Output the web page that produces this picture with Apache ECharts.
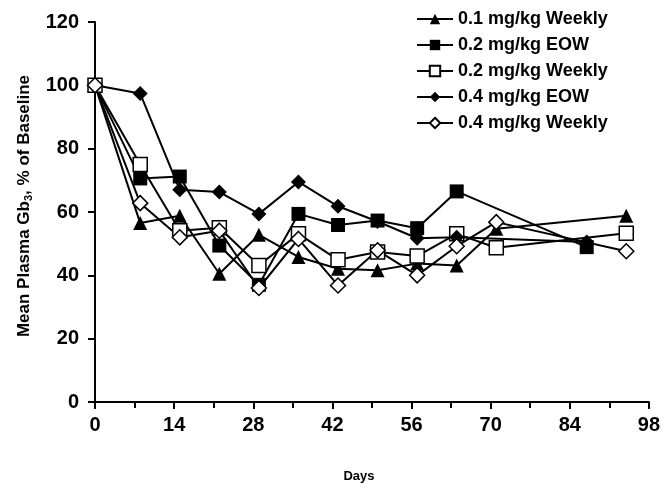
<!DOCTYPE html>
<html>
<head>
<meta charset="utf-8">
<script src="https://cdn.jsdelivr.net/npm/echarts@6/dist/echarts.min.js"></script>
<style>
  html, body { margin: 0; padding: 0; background: #fff; }
  #chart { width: 663px; height: 488px; }
</style>
</head>
<body>
<div id="chart"></div>
<script>
// days of measurement
const weeklyDays = [0, 8, 15, 22, 29, 36, 43, 50, 57, 64, 71, 94]
const eowDays = [0, 8, 15, 22, 29, 36, 43, 50, 57, 64, 87]

// % of baseline
const w01 = [100, 56.5, 58.8, 40.5, 52.8, 45.8, 42.1, 41.6, 43.7, 43.1, 54.7, 58.8]
const eow02 = [100, 70.6, 71.2, 49.4, 37, 59.4, 55.9, 57.3, 54.9, 66.5, 48.9]
const w02 = [100, 75, 54.1, 55, 43.1, 53.1, 44.9, 47.4, 46.1, 53.1, 48.7, 53.3]
const eow04 = [100, 97.4, 67, 66.3, 59.4, 69.5, 61.8, 57, 51.7, 52, 50.5]
const w04 = [100, 62.8, 52, 54.1, 36, 51.5, 36.8, 47.9, 40, 49.2, 56.8, 47.6]

const seriesNames = ['0.1 mg/kg Weekly', '0.2 mg/kg EOW', '0.2 mg/kg Weekly', '0.4 mg/kg EOW', '0.4 mg/kg Weekly']

const font = 'Liberation Sans, Arial, sans-serif'

function pairs (days, vals) {
  return days.map((d, i) => [d, vals[i]])
}

function makeSeries (name, days, vals, symbol, size, filled) {
  return {
    name: name,
    type: 'line',
    data: pairs(days, vals),
    symbol: symbol,
    symbolSize: size,
    showAllSymbol: true,
    lineStyle: { color: '#000', width: 2 },
    itemStyle: {
      color: filled ? '#000' : '#fff',
      borderColor: '#000',
      borderWidth: filled ? 0 : 1.5
    },
    emphasis: { disabled: true },
    animation: false
  }
}

const chart = echarts.init(document.getElementById('chart'))
chart.setOption({
  backgroundColor: '#fff',
  animation: false,
  grid: { left: 95, right: 9, top: 22, bottom: 84 },
  legend: {
    orient: 'vertical',
    left: 411,
    top: 5,
    itemWidth: 36,
    itemHeight: 13,
    itemGap: 8,
    data: seriesNames,
    textStyle: { fontFamily: font, fontWeight: 'bold', fontSize: 18, color: '#000' }
  },
  xAxis: {
    type: 'value',
    min: 0,
    max: 98,
    interval: 14,
    name: 'Days',
    nameLocation: 'middle',
    nameGap: 68,
    nameTextStyle: { fontFamily: font, fontWeight: 'bold', fontSize: 13, color: '#000', padding: [0, 26, 0, 0] },
    axisLine: { lineStyle: { color: '#000', width: 2 } },
    axisTick: { length: 7, lineStyle: { color: '#000', width: 2 } },
    minorTick: { show: true, splitNumber: 2, length: 6, lineStyle: { color: '#000', width: 2 } },
    splitLine: { show: false },
    axisLabel: { margin: 13, fontFamily: font, fontWeight: 'bold', fontSize: 20, color: '#000' }
  },
  yAxis: {
    type: 'value',
    min: 0,
    max: 120,
    interval: 20,
    name: 'Mean Plasma Gb{sub|3}, % of Baseline',
    nameLocation: 'middle',
    nameGap: 60,
    nameTextStyle: {
      fontFamily: font, fontWeight: 'bold', fontSize: 17, color: '#000',
      padding: [0, 0, 0, 12],
      rich: {
        sub: { fontFamily: font, fontWeight: 'bold', fontSize: 11, color: '#000', verticalAlign: 'bottom', padding: [9, 0, 0, 0] }
      }
    },
    axisLine: { lineStyle: { color: '#000', width: 2 } },
    axisTick: { length: 7, lineStyle: { color: '#000', width: 2 } },
    splitLine: { show: false },
    axisLabel: { margin: 16, fontFamily: font, fontWeight: 'bold', fontSize: 20, color: '#000' }
  },
  series: [
    makeSeries(seriesNames[0], weeklyDays, w01, 'triangle', 14, true),
    makeSeries(seriesNames[1], eowDays, eow02, 'rect', 14, true),
    makeSeries(seriesNames[2], weeklyDays, w02, 'rect', 14, false),
    makeSeries(seriesNames[3], eowDays, eow04, 'diamond', 15, true),
    makeSeries(seriesNames[4], weeklyDays, w04, 'diamond', 15, false)
  ]
})
</script>
</body>
</html>
